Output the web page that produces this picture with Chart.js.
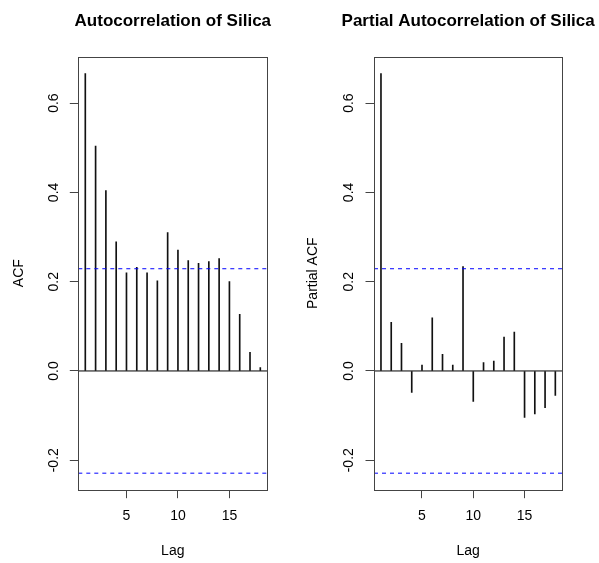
<!DOCTYPE html>
<html>
<head>
<meta charset="utf-8">
<script src="https://cdn.jsdelivr.net/npm/chart.js@4.4.1/dist/chart.umd.min.js"></script>
<style>
  html, body { margin: 0; padding: 0; background: #fff; }
  #wrap { position: relative; width: 599px; height: 563px; overflow: hidden; background: #fff; }
  canvas { position: absolute; top: 0; }
</style>
</head>
<body>
<div id="wrap">
  <canvas id="acf" width="300" height="563" style="left:0px"></canvas>
  <canvas id="pacf" width="299" height="563" style="left:300px"></canvas>
</div>
<script>
// ---- data ----
const lags = [1, 2, 3, 4, 5, 6, 7, 8, 9, 10, 11, 12, 13, 14, 15, 16, 17, 18];
const acfValues = [0.666, 0.504, 0.404, 0.289, 0.220, 0.232, 0.220, 0.202, 0.310,
                   0.271, 0.247, 0.241, 0.245, 0.252, 0.200, 0.127, 0.042, 0.0075];
const pacfValues = [0.666, 0.109, 0.062, -0.048, 0.013, 0.119, 0.037, 0.013, 0.234,
                    -0.068, 0.019, 0.022, 0.076, 0.087, -0.104, -0.096, -0.082, -0.055];
const ciBound = 0.229;
const xTicks = [5, 10, 15];
const yTicks = [-0.2, 0.0, 0.2, 0.4, 0.6];
const xRange = [0.32, 18.68];
const yRange = [-0.266, 0.704];
const titles = ["Autocorrelation of Silica", "Partial Autocorrelation of Silica"];
const yTitles = ["ACF", "Partial ACF"];
const xTitle = "Lag";

const FONT = '"Liberation Sans", Arial, Helvetica, sans-serif';

const rPlugin = {
  id: 'rstyle',
  afterDraw(chart, args, opts) {
    const { ctx, chartArea: a, scales: { y } } = chart;
    ctx.save();
    // box
    ctx.strokeStyle = '#444';
    ctx.lineWidth = 1;
    ctx.strokeRect(Math.round(a.left) + 0.5, Math.round(a.top) + 0.5,
                   Math.round(a.right - a.left), Math.round(a.bottom - a.top));
    // main title
    ctx.fillStyle = '#000';
    ctx.textAlign = 'center';
    ctx.textBaseline = 'middle';
    ctx.font = 'bold 17px ' + FONT;
    ctx.fillText(opts.title, (a.left + a.right) / 2, opts.titleY);
    // rotated y tick labels
    ctx.font = '14px ' + FONT;
    y.ticks.forEach(t => {
      const py = y.getPixelForValue(t.value);
      ctx.save();
      ctx.translate(opts.yLabelX, py);
      ctx.rotate(-Math.PI / 2);
      ctx.fillText(Number(t.value).toFixed(1), 0, 0);
      ctx.restore();
    });
    ctx.restore();
  }
};

function makeChart(id, values, cfg) {
  const hline = v => [{ x: xRange[0], y: v }, { x: xRange[1], y: v }];
  return new Chart(document.getElementById(id), {
    type: 'bar',
    data: {
      datasets: [
        {
          type: 'bar',
          data: lags.map((l, i) => ({ x: l, y: values[i] })),
          backgroundColor: '#111',
          borderWidth: 0,
          barThickness: 1,
          order: 2
        },
        {
          type: 'line',
          data: hline(0),
          borderColor: '#000',
          borderWidth: 1,
          pointRadius: 0,
          fill: false,
          order: 1
        },
        {
          type: 'line',
          data: hline(ciBound),
          borderColor: '#0000ff',
          borderWidth: 1,
          borderDash: [4, 4],
          pointRadius: 0,
          fill: false,
          order: 1
        },
        {
          type: 'line',
          data: hline(-ciBound),
          borderColor: '#0000ff',
          borderWidth: 1,
          borderDash: [4, 4],
          pointRadius: 0,
          fill: false,
          order: 1
        }
      ]
    },
    options: {
      responsive: false,
      animation: false,
      events: [],
      layout: { padding: { top: 56.7, right: cfg.padRight, left: 0, bottom: 0 } },
      plugins: {
        legend: { display: false },
        tooltip: { enabled: false },
        title: { display: false },
        rstyle: { title: cfg.title, titleY: 21.7, yLabelX: cfg.yLabelX }
      },
      scales: {
        x: {
          type: 'linear',
          min: xRange[0],
          max: xRange[1],
          offset: false,
          afterBuildTicks: s => { s.ticks = xTicks.map(v => ({ value: v })); },
          afterFit: s => { s.height = 73.3; },
          grid: { offset: false, drawOnChartArea: false, drawTicks: true, tickLength: 8.5, color: '#444' },
          border: { display: false },
          ticks: {
            color: '#000',
            font: { family: FONT, size: 14 },
            padding: 9.4,
            maxRotation: 0,
            minRotation: 0,
            callback: v => String(v)
          },
          title: {
            display: true,
            text: xTitle,
            color: '#000',
            font: { family: FONT, size: 14 },
            padding: { top: 0, bottom: 3.6 }
          }
        },
        y: {
          type: 'linear',
          min: yRange[0],
          max: yRange[1],
          afterBuildTicks: s => { s.ticks = yTicks.map(v => ({ value: v })); },
          afterFit: s => { s.width = cfg.yWidth; },
          grid: { offset: false, drawOnChartArea: false, drawTicks: true, tickLength: 8.5, color: '#444' },
          border: { display: false },
          ticks: { display: false },
          title: {
            display: true,
            text: cfg.yTitle,
            color: '#000',
            font: { family: FONT, size: 14 },
            padding: { top: cfg.yTitlePad, bottom: 0 }
          }
        }
      }
    },
    plugins: [rPlugin]
  });
}

makeChart('acf', acfValues, {
  title: titles[0], yTitle: yTitles[0], yWidth: 78.3, padRight: 32.7,
  yLabelX: 54, yTitlePad: 10.6
});
makeChart('pacf', pacfValues, {
  title: titles[1], yTitle: yTitles[1], yWidth: 74, padRight: 36.7,
  yLabelX: 49, yTitlePad: 4.6
});
</script>
</body>
</html>
